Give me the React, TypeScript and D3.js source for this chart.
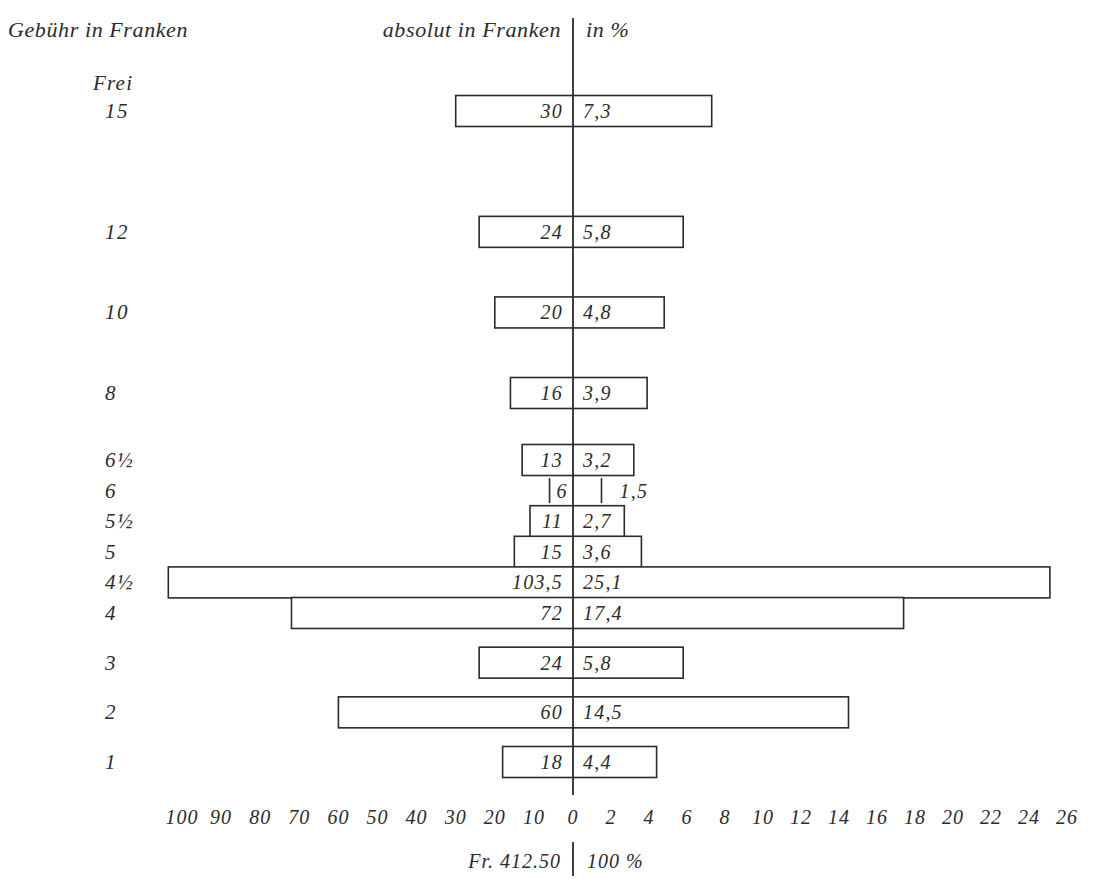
import React from "react";
import * as d3 from "d3";

// Gebühr in Franken (Kategorien von oben nach unten)
const fees = ["15", "12", "10", "8", "6½", "6", "5½", "5", "4½", "4", "3", "2", "1"];
const feeValues = [15, 12, 10, 8, 6.5, 6, 5.5, 5, 4.5, 4, 3, 2, 1];
const absolut = [30, 24, 20, 16, 13, 6, 11, 15, 103.5, 72, 24, 60, 18];
const percent = [7.3, 5.8, 4.8, 3.9, 3.2, 1.5, 2.7, 3.6, 25.1, 17.4, 5.8, 14.5, 4.4];
const absTicks = [100, 90, 80, 70, 60, 50, 40, 30, 20, 10, 0];
const pctTicks = [2, 4, 6, 8, 10, 12, 14, 16, 18, 20, 22, 24, 26];

const width = 1098;
const height = 879;
const font = "'Liberation Serif', 'Times New Roman', serif";
const ink = "#2b2b2b";

const locale = d3.formatLocale({
  decimal: ",",
  thousands: ".",
  grouping: [3],
  currency: ["", ""],
});
const fmt = locale.format("~r");

export default function App() {
  const x0 = 573;
  const xL = d3.scaleLinear().domain([0, 100]).range([x0, x0 - 391]);
  const xR = d3.scaleLinear().domain([0, 26]).range([x0, x0 + 494]);
  // Zeilenabstände im Original sind nicht gleichmässig
  const y = d3
    .scaleLinear()
    .domain([1, 4, 6.5, 8, 15])
    .range([762, 613, 460, 393, 111]);
  const barH = 31;

  const textStyle = {
    fontFamily: font,
    fontStyle: "italic",
    fill: ink,
  } as React.CSSProperties;

  return (
    <svg
      width={width}
      height={height}
      style={{ display: "block", marginLeft: -8, marginTop: -8 }}
    >
      <rect width={width} height={height} fill="#fff" />
      <g style={textStyle}>
        <text x={8} y={37} fontSize={22} letterSpacing={0.6}>
          Gebühr in Franken
        </text>
        <text x={x0 - 12} y={37} fontSize={22} textAnchor="end" letterSpacing={0.6}>
          absolut in Franken
        </text>
        <text x={x0 + 13} y={37} fontSize={22} letterSpacing={0.6}>
          in %
        </text>
        <text x={93} y={y(15) - 21} fontSize={21} letterSpacing={1.2}>
          Frei
        </text>
      </g>

      {fees.map((fee, i) => {
        const cy = y(feeValues[i]);
        const left = xL(absolut[i]);
        const right = xR(percent[i]);
        const open = percent[i] < 2;
        const h = open ? 25 : barH;
        return (
          <g key={fee}>
            {open ? (
              <g stroke={ink} strokeWidth={1.6}>
                <line x1={left} x2={left} y1={cy - h / 2} y2={cy + h / 2} />
                <line x1={right} x2={right} y1={cy - h / 2} y2={cy + h / 2} />
              </g>
            ) : (
              <rect
                x={left}
                y={cy - h / 2}
                width={right - left}
                height={h}
                fill="#fff"
                stroke={ink}
                strokeWidth={1.6}
              />
            )}
            <text
              x={105}
              y={cy + 7}
              fontSize={21}
              letterSpacing={1.5}
              style={textStyle}
            >
              {fee}
            </text>
            <text
              x={open ? left + 7 : x0 - 10}
              y={cy + 7}
              fontSize={20}
              textAnchor={open ? "start" : "end"}
              letterSpacing={1.2}
              style={textStyle}
            >
              {fmt(absolut[i])}
            </text>
            <text
              x={open ? right + 18 : x0 + 10}
              y={cy + 7}
              fontSize={20}
              letterSpacing={1.2}
              style={textStyle}
            >
              {fmt(percent[i])}
            </text>
          </g>
        );
      })}

      <g stroke={ink} strokeWidth={1.8}>
        <line x1={x0} x2={x0} y1={18} y2={795} />
        <line x1={x0} x2={x0} y1={842} y2={876} />
      </g>

      <g style={textStyle} fontSize={20} textAnchor="middle" letterSpacing={1}>
        {absTicks.map((t) => (
          <text key={"a" + t} x={xL(t)} y={824}>
            {t}
          </text>
        ))}
        {pctTicks.map((t) => (
          <text key={"p" + t} x={xR(t)} y={824}>
            {t}
          </text>
        ))}
      </g>

      <g style={textStyle} fontSize={20} letterSpacing={1}>
        <text x={x0 - 12} y={868} textAnchor="end">
          Fr. 412.50
        </text>
        <text x={x0 + 14} y={868}>
          100 %
        </text>
      </g>
    </svg>
  );
}
